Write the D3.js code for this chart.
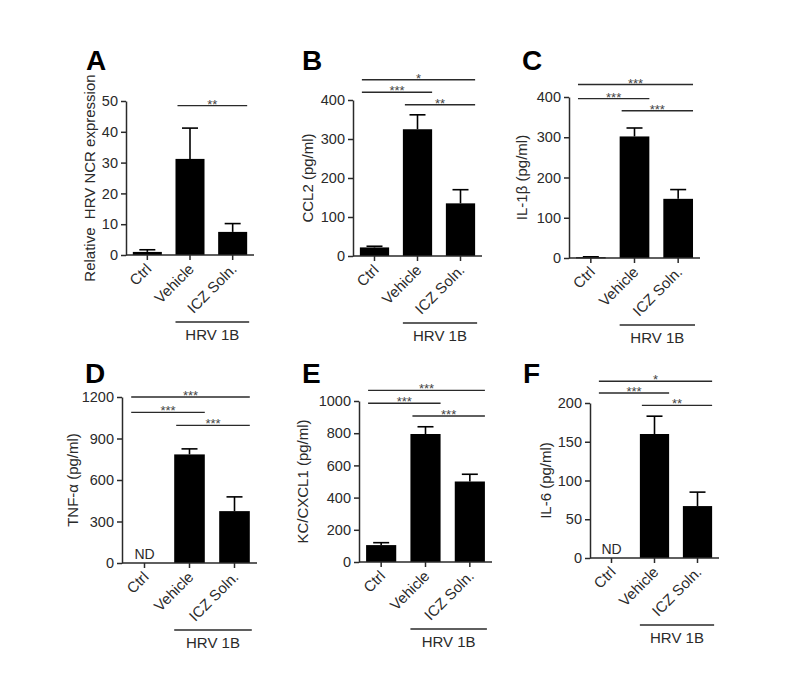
<!DOCTYPE html>
<html><head><meta charset="utf-8">
<script src="https://cdn.jsdelivr.net/npm/d3@7"></script>
<style>
body{margin:0;background:#fff;}
svg text{font-family:"Liberation Sans",Arial,sans-serif;}
</style></head>
<body>
<svg id="chart" width="787" height="700"></svg>
<script>
// ---- data ----
const categories = ["Ctrl", "Vehicle", "ICZ Soln."];
const panelLetters = ["A", "B", "C", "D", "E", "F"];
const yTitles = ["Relative  HRV NCR expression", "CCL2 (pg/ml)", "IL-1β (pg/ml)", "TNF-α (pg/ml)", "KC/CXCL1 (pg/ml)", "IL-6 (pg/ml)"];
const yMax = [50, 400, 400, 1200, 1000, 200];
const yTicks = [
  [0, 10, 20, 30, 40, 50],
  [0, 100, 200, 300, 400],
  [0, 100, 200, 300, 400],
  [0, 300, 600, 900, 1200],
  [0, 200, 400, 600, 800, 1000],
  [0, 50, 100, 150, 200]
];
const means = [
  [1, 31.2, 7.5],
  [22, 325, 135],
  [2, 302, 147],
  [null, 785, 375],
  [105, 795, 500],
  [null, 160, 67]
];
const errorTops = [
  [1.7, 41.2, 10.2],
  [25, 362, 170],
  [3, 323, 170],
  [null, 825, 478],
  [120, 840, 545],
  [null, 183, 85]
];
// significance brackets: [fromIndex, toIndex, stars, heightInDataUnits]
const sigBrackets = [
  [[1, 2, "**", 48.5]],
  [[0, 2, "*", 452], [0, 1, "***", 420], [1, 2, "**", 388]],
  [[0, 2, "***", 431], [0, 1, "***", 396], [1, 2, "***", 366]],
  [[0, 2, "***", 1200], [0, 1, "***", 1089], [1, 2, "***", 995]],
  [[0, 2, "***", 1066], [0, 1, "***", 986], [1, 2, "***", 907]],
  [[0, 2, "*", 228], [0, 1, "***", 213], [1, 2, "**", 197]]
];
const groupLabel = "HRV 1B";
const ndLabel = "ND";

// ---- layout ----
const layout = [
  {ax: 126, top: 101, bottom: 255, w: 128, tx: 90,  lx: 86,  ly: 70},
  {ax: 353, top: 100, bottom: 256, w: 129, tx: 308, lx: 302, ly: 70},
  {ax: 569, top: 97,  bottom: 258, w: 131, tx: 522, lx: 522, ly: 70},
  {ax: 122, top: 397, bottom: 563, w: 135, tx: 73,  lx: 85,  ly: 383},
  {ax: 359, top: 401, bottom: 562, w: 133, tx: 303, lx: 302, ly: 383},
  {ax: 590, top: 403, bottom: 558, w: 129, tx: 546, lx: 523, ly: 383}
];

const svg = d3.select("#chart");
const lineColor = "#2a2a2a";
const textColor = "#2a2a2a";

panelLetters.forEach((letter, i) => {
  const L = layout[i];
  const g = svg.append("g");
  const x = d3.scaleBand().domain(categories).range([L.ax, L.ax + L.w]).paddingInner(0.32).paddingOuter(0.16);
  const y = d3.scaleLinear().domain([0, yMax[i]]).range([L.bottom, L.top]);

  // panel letter
  g.append("text").attr("x", L.lx).attr("y", L.ly).text(letter)
    .attr("font-size", 28).attr("font-weight", "bold").attr("fill", "#000");

  // bars
  categories.forEach((c, j) => {
    const v = means[i][j];
    if (v === null) {
      g.append("text").attr("x", x(c) + x.bandwidth() / 2).attr("y", L.bottom - 4)
        .attr("text-anchor", "middle").attr("font-size", 14).attr("fill", textColor).text(ndLabel);
      return;
    }
    const cx = x(c) + x.bandwidth() / 2;
    const et = errorTops[i][j];
    g.append("line").attr("x1", cx).attr("x2", cx).attr("y1", y(v)).attr("y2", y(et))
      .attr("stroke", "#000").attr("stroke-width", 1.6);
    g.append("line").attr("x1", cx - 8).attr("x2", cx + 8).attr("y1", y(et)).attr("y2", y(et))
      .attr("stroke", "#000").attr("stroke-width", 1.6);
    g.append("rect").attr("x", x(c)).attr("width", x.bandwidth())
      .attr("y", y(v)).attr("height", Math.max(1.2, y(0) - y(v))).attr("fill", "#000");
  });

  // y axis
  const yAxis = g.append("g").attr("transform", `translate(${L.ax},0)`)
    .call(d3.axisLeft(y).tickValues(yTicks[i]).tickFormat(d3.format("d")).tickSize(5).tickSizeOuter(0).tickPadding(3));
  yAxis.selectAll("path,line").attr("stroke", lineColor).attr("stroke-width", 1.5);
  yAxis.selectAll("text").attr("font-size", 14.5).attr("fill", textColor).attr("font-family", "Liberation Sans, Arial, sans-serif");

  // x axis
  const xAxis = g.append("g").attr("transform", `translate(0,${L.bottom})`)
    .call(d3.axisBottom(x).tickSize(5).tickSizeOuter(0).tickFormat(""));
  xAxis.select("path").attr("d", `M${L.ax},0H${L.ax + L.w}`);
  xAxis.selectAll("path,line").attr("stroke", lineColor).attr("stroke-width", 1.5);

  // rotated category labels
  categories.forEach(c => {
    const cx = x(c) + x.bandwidth() / 2;
    g.append("text").attr("transform", `translate(${cx + 5},${L.bottom + 15}) rotate(-45)`)
      .attr("text-anchor", "end").attr("font-size", 15).attr("fill", textColor).text(c);
  });

  // y title
  g.append("text").attr("transform", `translate(${L.tx},${(L.top + L.bottom) / 2}) rotate(-90)`)
    .attr("text-anchor", "middle").attr("dy", "0.35em").attr("font-size", 15).attr("fill", textColor)
    .style("white-space", "pre").text(yTitles[i]);

  // significance brackets
  sigBrackets[i].forEach(([a, b, stars, h]) => {
    const x1 = x(categories[a]) + 2, x2 = x(categories[b]) + x.bandwidth();
    g.append("line").attr("x1", x1).attr("x2", x2).attr("y1", y(h)).attr("y2", y(h))
      .attr("stroke", lineColor).attr("stroke-width", 1.4);
    g.append("text").attr("x", (x1 + x2) / 2).attr("y", y(h) + 3).attr("text-anchor", "middle")
      .attr("font-size", 13).attr("fill", "#444").text(stars);
  });

  // group line
  const gy = L.bottom + 67;
  const gx1 = x(categories[1]), gx2 = x(categories[2]) + x.bandwidth() + 2;
  g.append("line").attr("x1", gx1).attr("x2", gx2).attr("y1", gy).attr("y2", gy)
    .attr("stroke", lineColor).attr("stroke-width", 1.5);
  g.append("text").attr("x", (gx1 + gx2) / 2).attr("y", gy + 18).attr("text-anchor", "middle")
    .attr("font-size", 15).attr("fill", textColor).text(groupLabel);
});
</script>
</body></html>
